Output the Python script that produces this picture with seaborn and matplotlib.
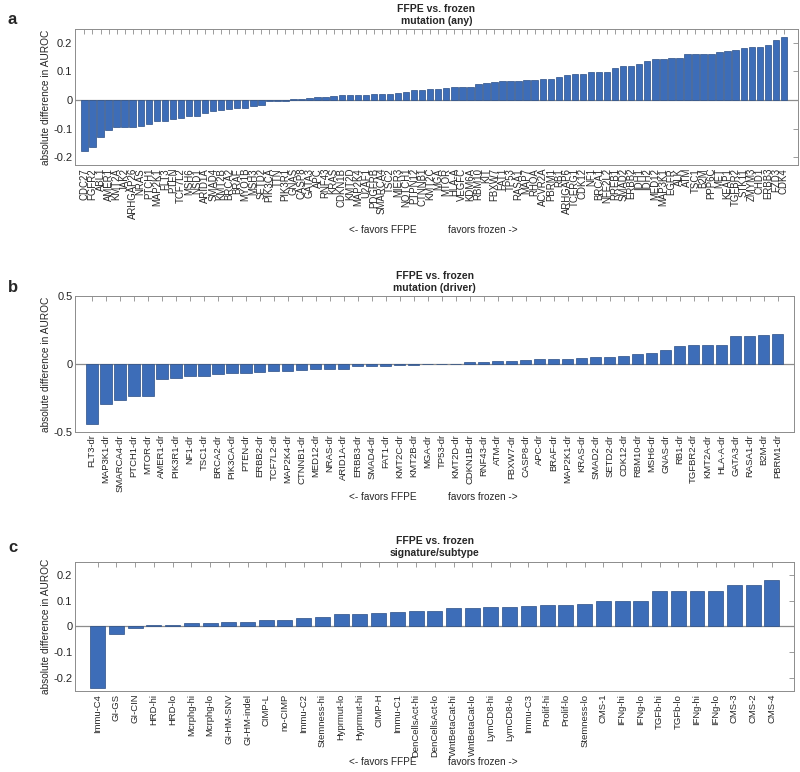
import numpy as np
import pandas as pd
import matplotlib
matplotlib.use("Agg")
import matplotlib.pyplot as plt
import seaborn as sns

# panel a: mutation (any)
genes_any = [
    "CDC27", "FGFR2", "ABL1", "AMER1", "KMT2A", "JAK2", "ARHGAP26", "NRAS", "PTCH1", "MAP2K1",
    "FLT3", "PTEN", "TCF7L2", "MSH6", "NSD1", "ARID1A", "SMAD4", "KMT2B", "BRCA2", "BRAF",
    "MYO1B", "MSH3", "SETD2", "PIK3CA", "TTN", "PIK3R1", "GNAS", "CASP8", "GATA3", "APC",
    "RNF43", "KRAS", "CDKN1B", "KMT2D", "MAP2K4", "U2AF1", "PDGFRB", "SMARCA4", "TSC2", "MIER3",
    "NOTCH1", "PTPN12", "CTNNB1", "KMT2C", "MGA", "MTOR", "HLA-A", "VEGFC", "KDM6A", "RBM10",
    "KIT", "FBXW7", "FAT1", "TP53", "RASA1", "MAP7", "RHOA", "ACVR2A", "PBRM1", "RB1",
    "ARHGAP6", "TCERG1", "CDK12", "NF1", "BRCA1", "NFE2L2", "RREB1", "SMAD2", "ERBB2", "IDH1",
    "IDH2", "MED12", "MAP3K1", "EGFR", "ALK", "ATM", "TSC1", "B2M", "PPP6C", "MET",
    "KEAP1", "TGFBR2", "STK11", "ZMYM3", "CHD1", "ERBB3", "FZD3", "CDK4",
]
diff_any = [
    -0.179, -0.164, -0.129, -0.105, -0.096, -0.096, -0.095, -0.090, -0.083, -0.075,
    -0.073, -0.068, -0.062, -0.057, -0.055, -0.046, -0.040, -0.036, -0.032, -0.029,
    -0.027, -0.020, -0.018, -0.005, -0.004, -0.002, 0.002, 0.004, 0.008, 0.009,
    0.012, 0.015, 0.016, 0.016, 0.017, 0.019, 0.020, 0.021, 0.022, 0.025,
    0.027, 0.035, 0.036, 0.040, 0.040, 0.041, 0.045, 0.047, 0.047, 0.056,
    0.059, 0.062, 0.065, 0.065, 0.067, 0.069, 0.069, 0.073, 0.074, 0.081,
    0.086, 0.091, 0.091, 0.098, 0.099, 0.099, 0.111, 0.120, 0.120, 0.125,
    0.136, 0.144, 0.145, 0.146, 0.146, 0.161, 0.161, 0.162, 0.162, 0.168,
    0.173, 0.174, 0.181, 0.184, 0.184, 0.193, 0.209, 0.220,
]

# panel b: mutation (driver)
genes_driver = [
    "FLT3-dr", "MAP3K1-dr", "SMARCA4-dr", "PTCH1-dr", "MTOR-dr", "AMER1-dr", "PIK3R1-dr",
    "NF1-dr", "TSC1-dr", "BRCA2-dr", "PIK3CA-dr", "PTEN-dr", "ERBB2-dr", "TCF7L2-dr",
    "MAP2K4-dr", "CTNNB1-dr", "MED12-dr", "NRAS-dr", "ARID1A-dr", "ERBB3-dr", "SMAD4-dr",
    "FAT1-dr", "KMT2C-dr", "KMT2B-dr", "MGA-dr", "TP53-dr", "KMT2D-dr", "CDKN1B-dr",
    "RNF43-dr", "ATM-dr", "FBXW7-dr", "CASP8-dr", "APC-dr", "BRAF-dr", "MAP2K1-dr",
    "KRAS-dr", "SMAD2-dr", "SETD2-dr", "CDK12-dr", "RBM10-dr", "MSH6-dr", "GNAS-dr",
    "RB1-dr", "TGFBR2-dr", "KMT2A-dr", "HLA-A-dr", "GATA3-dr", "RASA1-dr", "B2M-dr", "PBRM1-dr",
]
diff_driver = [
    -0.443, -0.298, -0.264, -0.239, -0.236, -0.114, -0.107,
    -0.092, -0.087, -0.075, -0.070, -0.067, -0.057, -0.052,
    -0.052, -0.042, -0.040, -0.040, -0.035, -0.017, -0.015,
    -0.012, -0.010, -0.005, -0.002, -0.002, 0.002, 0.017,
    0.017, 0.022, 0.022, 0.027, 0.035, 0.035, 0.040,
    0.045, 0.050, 0.052, 0.057, 0.077, 0.082, 0.102,
    0.132, 0.139, 0.142, 0.142, 0.209, 0.209, 0.216, 0.224,
]

# panel c: signature/subtype
signatures = [
    "Immu-C4", "GI-GS", "GI-CIN", "HRD-hi", "HRD-lo", "Mcrphg-hi", "Mcrphg-lo", "GI-HM-SNV",
    "GI-HM-indel", "CIMP-L", "no-CIMP", "Immu-C2", "Stemness-hi", "Hyprmut-lo", "Hyprmut-hi",
    "CIMP-H", "Immu-C1", "DenCellsAct-hi", "DenCellsAct-lo", "WntBetaCat-hi", "WntBetaCat-lo",
    "LymCD8-hi", "LymCD8-lo", "Immu-C3", "Prolif-hi", "Prolif-lo", "Stemness-lo", "CMS-1",
    "IFNg-hi", "IFNg-lo", "TGFb-hi", "TGFb-lo", "IFNg-hi", "IFNg-lo", "CMS-3", "CMS-2", "CMS-4",
]
diff_sig = [
    -0.239, -0.031, -0.005, 0.007, 0.007, 0.013, 0.013, 0.018,
    0.018, 0.025, 0.026, 0.033, 0.038, 0.050, 0.050,
    0.052, 0.056, 0.059, 0.059, 0.071, 0.071,
    0.077, 0.077, 0.080, 0.083, 0.083, 0.086, 0.099,
    0.101, 0.101, 0.137, 0.137, 0.140, 0.140, 0.162, 0.163, 0.182,
]

BAR = "#3D6DB8"
EDGE = "#2B4F86"
GRID = "#8C8C8C"
H = 772.0

sns.set_style("white")
plt.rcParams["font.family"] = ["Liberation Sans", "DejaVu Sans"]

fig = plt.figure(figsize=(8, 7.72), dpi=100)

# letter, subtitle, labels, values, axes rect, xlim, ylim, yticks, label size, note y (px), letter y (px)
panels = [
    ("a", "mutation (any)", genes_any, diff_any, [0.094, 0.786, 0.903, 0.176],
     (-1.15, 88.7), (-0.228, 0.247), [-0.2, -0.1, 0, 0.1, 0.2], 6.9, 230, 20),
    ("b", "mutation (driver)", genes_driver, diff_driver, [0.094, 0.441, 0.899, 0.175],
     (-1.2, 50.2), (-0.5, 0.5), [-0.5, 0, 0.5], 6.8, 497, 287),
    ("c", "signature/subtype", signatures, diff_sig, [0.094, 0.105, 0.899, 0.167],
     (-1.2, 37.2), (-0.252, 0.252), [-0.2, -0.1, 0, 0.1, 0.2], 6.8, 762, 547),
]

for letter, sub, labels, vals, rect, xl, yl, yt, fs, note_y, let_y in panels:
    ax = fig.add_axes(rect)
    df = pd.DataFrame({"pos": np.arange(len(vals)), "diff": vals})
    sns.barplot(data=df, x="pos", y="diff", ax=ax, color=BAR, saturation=1,
                width=0.8, edgecolor=EDGE, linewidth=0.5)
    ax.axhline(0, color=GRID, lw=0.9, zorder=0.5)
    ax.set_xlim(*xl)
    ax.set_ylim(*yl)
    ax.set_yticks(yt)
    ax.set_yticklabels([("%g" % t) for t in yt], fontsize=8)
    ax.set_xticks(np.arange(len(labels)))
    ax.set_xticklabels(labels, rotation=90, fontsize=fs)
    ax.tick_params(axis="both", direction="in", length=3.5, width=0.6, color=GRID,
                   top=True, right=True, pad=2)
    for s in ax.spines.values():
        s.set_color(GRID)
        s.set_linewidth(0.7)
    ax.set_xlabel("")
    ax.set_ylabel("absolute difference in AUROC", fontsize=7.3, labelpad=2)
    ax.set_title("FFPE vs. frozen\n" + sub, fontsize=7.5, fontweight="bold",
                 linespacing=1.25, pad=4)
    fig.text(0.01, 1 - let_y / H, letter, fontsize=12, fontweight="bold", va="center")
    fig.text(0.479, 1 - note_y / H, "<- favors FFPE", fontsize=7.2, ha="center", va="center")
    fig.text(0.604, 1 - note_y / H, "favors frozen ->", fontsize=7.2, ha="center", va="center")

fig.savefig("out.png", dpi=100, facecolor="white")
